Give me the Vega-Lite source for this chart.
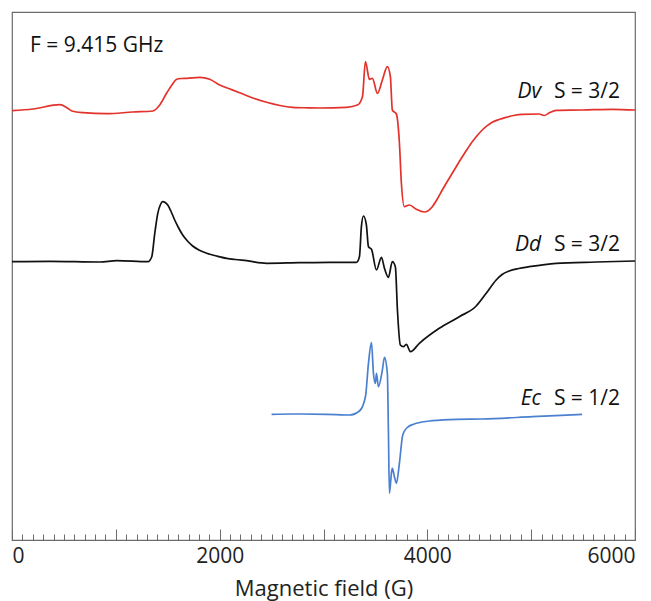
{
  "$schema": "https://vega.github.io/schema/vega-lite/v6.json",
  "width": 623,
  "height": 528,
  "autosize": "none",
  "padding": {"left": 12, "top": 12, "right": 16, "bottom": 61},
  "background": "white",
  "config": {
    "view": {"stroke": "#6b6b6b", "strokeWidth": 1.2},
    "font": "Open Sans"
  },
  "datasets": {
    "spec": [
      {"s": "Dv", "B": 0, "I": 429.3}, {"s": "Dv", "B": 202, "I": 431}, {"s": "Dv", "B": 462, "I": 435.3}, {"s": "Dv", "B": 529, "I": 432.3}, {"s": "Dv", "B": 577, "I": 429}, {"s": "Dv", "B": 683, "I": 427.3}, {"s": "Dv", "B": 913, "I": 426.3}, {"s": "Dv", "B": 1163, "I": 428}, {"s": "Dv", "B": 1356, "I": 429}, {"s": "Dv", "B": 1423, "I": 435}, {"s": "Dv", "B": 1490, "I": 447}, {"s": "Dv", "B": 1540, "I": 455}, {"s": "Dv", "B": 1587, "I": 460.7}, {"s": "Dv", "B": 1630, "I": 461.5}, {"s": "Dv", "B": 1683, "I": 461.7}, {"s": "Dv", "B": 1808, "I": 462.7}, {"s": "Dv", "B": 1904, "I": 460.7}, {"s": "Dv", "B": 2000, "I": 455}, {"s": "Dv", "B": 2100, "I": 451}, {"s": "Dv", "B": 2192, "I": 447.3}, {"s": "Dv", "B": 2320, "I": 442}, {"s": "Dv", "B": 2452, "I": 437.7}, {"s": "Dv", "B": 2580, "I": 434.5}, {"s": "Dv", "B": 2702, "I": 432.7}, {"s": "Dv", "B": 2850, "I": 432.2}, {"s": "Dv", "B": 2962, "I": 432}, {"s": "Dv", "B": 3221, "I": 432.7}, {"s": "Dv", "B": 3327, "I": 435}, {"s": "Dv", "B": 3375, "I": 443.3}, {"s": "Dv", "B": 3404, "I": 478.3}, {"s": "Dv", "B": 3442, "I": 460.7}, {"s": "Dv", "B": 3471, "I": 461.7}, {"s": "Dv", "B": 3519, "I": 446.7}, {"s": "Dv", "B": 3567, "I": 460}, {"s": "Dv", "B": 3615, "I": 473.3}, {"s": "Dv", "B": 3644, "I": 463.3}, {"s": "Dv", "B": 3663, "I": 430}, {"s": "Dv", "B": 3702, "I": 426}, {"s": "Dv", "B": 3731, "I": 397}, {"s": "Dv", "B": 3750, "I": 357}, {"s": "Dv", "B": 3779, "I": 333.3}, {"s": "Dv", "B": 3827, "I": 335}, {"s": "Dv", "B": 3894, "I": 330.7}, {"s": "Dv", "B": 3971, "I": 328}, {"s": "Dv", "B": 4048, "I": 333.3}, {"s": "Dv", "B": 4096, "I": 341}, {"s": "Dv", "B": 4144, "I": 350}, {"s": "Dv", "B": 4192, "I": 358.5}, {"s": "Dv", "B": 4240, "I": 366.7}, {"s": "Dv", "B": 4288, "I": 375}, {"s": "Dv", "B": 4337, "I": 383.3}, {"s": "Dv", "B": 4385, "I": 391}, {"s": "Dv", "B": 4433, "I": 398.3}, {"s": "Dv", "B": 4481, "I": 404.5}, {"s": "Dv", "B": 4529, "I": 410}, {"s": "Dv", "B": 4577, "I": 414.3}, {"s": "Dv", "B": 4625, "I": 417.7}, {"s": "Dv", "B": 4690, "I": 420.5}, {"s": "Dv", "B": 4760, "I": 422.7}, {"s": "Dv", "B": 4830, "I": 424.5}, {"s": "Dv", "B": 4913, "I": 425.7}, {"s": "Dv", "B": 5077, "I": 426}, {"s": "Dv", "B": 5125, "I": 424.5}, {"s": "Dv", "B": 5180, "I": 427.5}, {"s": "Dv", "B": 5240, "I": 429.7}, {"s": "Dv", "B": 5490, "I": 430}, {"s": "Dv", "B": 5779, "I": 430.7}, {"s": "Dv", "B": 6000, "I": 430},
      {"s": "Dd", "B": 0, "I": 278.3}, {"s": "Dd", "B": 365, "I": 278.7}, {"s": "Dd", "B": 846, "I": 278}, {"s": "Dd", "B": 1010, "I": 279.3}, {"s": "Dd", "B": 1308, "I": 278.3}, {"s": "Dd", "B": 1346, "I": 283.3}, {"s": "Dd", "B": 1375, "I": 306.7}, {"s": "Dd", "B": 1404, "I": 326.7}, {"s": "Dd", "B": 1430, "I": 335.5}, {"s": "Dd", "B": 1452, "I": 338.3}, {"s": "Dd", "B": 1475, "I": 337.5}, {"s": "Dd", "B": 1500, "I": 335}, {"s": "Dd", "B": 1530, "I": 329}, {"s": "Dd", "B": 1567, "I": 320}, {"s": "Dd", "B": 1600, "I": 313}, {"s": "Dd", "B": 1644, "I": 305}, {"s": "Dd", "B": 1690, "I": 299}, {"s": "Dd", "B": 1740, "I": 294}, {"s": "Dd", "B": 1800, "I": 290}, {"s": "Dd", "B": 1875, "I": 286.7}, {"s": "Dd", "B": 1970, "I": 284}, {"s": "Dd", "B": 2067, "I": 281.7}, {"s": "Dd", "B": 2150, "I": 280.5}, {"s": "Dd", "B": 2260, "I": 279.3}, {"s": "Dd", "B": 2452, "I": 276.7}, {"s": "Dd", "B": 2769, "I": 277.3}, {"s": "Dd", "B": 3058, "I": 277.7}, {"s": "Dd", "B": 3317, "I": 277.7}, {"s": "Dd", "B": 3346, "I": 283.3}, {"s": "Dd", "B": 3365, "I": 313.3}, {"s": "Dd", "B": 3385, "I": 324}, {"s": "Dd", "B": 3413, "I": 315}, {"s": "Dd", "B": 3433, "I": 293.3}, {"s": "Dd", "B": 3462, "I": 290.7}, {"s": "Dd", "B": 3510, "I": 270}, {"s": "Dd", "B": 3558, "I": 282.7}, {"s": "Dd", "B": 3587, "I": 271.7}, {"s": "Dd", "B": 3625, "I": 262.7}, {"s": "Dd", "B": 3663, "I": 278.3}, {"s": "Dd", "B": 3692, "I": 273.3}, {"s": "Dd", "B": 3712, "I": 230}, {"s": "Dd", "B": 3740, "I": 195}, {"s": "Dd", "B": 3769, "I": 193.3}, {"s": "Dd", "B": 3798, "I": 195.7}, {"s": "Dd", "B": 3837, "I": 188.3}, {"s": "Dd", "B": 3923, "I": 196.7}, {"s": "Dd", "B": 4115, "I": 211.7}, {"s": "Dd", "B": 4308, "I": 223.3}, {"s": "Dd", "B": 4471, "I": 234}, {"s": "Dd", "B": 4567, "I": 246.7}, {"s": "Dd", "B": 4663, "I": 260}, {"s": "Dd", "B": 4720, "I": 265.5}, {"s": "Dd", "B": 4788, "I": 269}, {"s": "Dd", "B": 4880, "I": 271.5}, {"s": "Dd", "B": 4981, "I": 273.3}, {"s": "Dd", "B": 5240, "I": 276.7}, {"s": "Dd", "B": 5625, "I": 278}, {"s": "Dd", "B": 6000, "I": 279},
      {"s": "Ec", "B": 2500, "I": 125.7}, {"s": "Ec", "B": 2702, "I": 126}, {"s": "Ec", "B": 3029, "I": 125.7}, {"s": "Ec", "B": 3250, "I": 125}, {"s": "Ec", "B": 3346, "I": 129}, {"s": "Ec", "B": 3404, "I": 143.3}, {"s": "Ec", "B": 3433, "I": 176.7}, {"s": "Ec", "B": 3462, "I": 197.3}, {"s": "Ec", "B": 3481, "I": 166.7}, {"s": "Ec", "B": 3500, "I": 156.7}, {"s": "Ec", "B": 3510, "I": 166.7}, {"s": "Ec", "B": 3529, "I": 153.3}, {"s": "Ec", "B": 3567, "I": 170}, {"s": "Ec", "B": 3587, "I": 182.7}, {"s": "Ec", "B": 3615, "I": 166.7}, {"s": "Ec", "B": 3625, "I": 110}, {"s": "Ec", "B": 3635, "I": 46.7}, {"s": "Ec", "B": 3654, "I": 66.7}, {"s": "Ec", "B": 3663, "I": 71.7}, {"s": "Ec", "B": 3683, "I": 63.3}, {"s": "Ec", "B": 3702, "I": 56.7}, {"s": "Ec", "B": 3731, "I": 76.7}, {"s": "Ec", "B": 3760, "I": 103.3}, {"s": "Ec", "B": 3780, "I": 109}, {"s": "Ec", "B": 3820, "I": 113.5}, {"s": "Ec", "B": 3860, "I": 115.5}, {"s": "Ec", "B": 3894, "I": 116.7}, {"s": "Ec", "B": 4048, "I": 119.3}, {"s": "Ec", "B": 4288, "I": 120.7}, {"s": "Ec", "B": 4529, "I": 121}, {"s": "Ec", "B": 5010, "I": 123.3}, {"s": "Ec", "B": 5490, "I": 125.7}
    ],
    "ann": [
      {"kind": "freq", "text": "F = 9.415 GHz", "B": 173, "I": 488},
      {"kind": "species", "text": "Dv", "B": 5096, "I": 442},
      {"kind": "spin", "text": "S = 3/2", "B": 5856, "I": 442},
      {"kind": "species", "text": "Dd", "B": 5096, "I": 289},
      {"kind": "spin", "text": "S = 3/2", "B": 5856, "I": 289},
      {"kind": "species", "text": "Ec", "B": 5096, "I": 135},
      {"kind": "spin", "text": "S = 1/2", "B": 5856, "I": 135}
    ]
  },
  "layer": [
    {
      "data": {"name": "spec"},
      "mark": {"type": "line", "strokeWidth": 1.7, "strokeJoin": "round", "interpolate": "monotone"},
      "encoding": {
        "x": {
          "field": "B", "type": "quantitative",
          "scale": {"domain": [0, 6000], "nice": false, "zero": false},
          "axis": {
            "orient": "bottom",
            "title": "Magnetic field (G)",
            "titleFont": "Open Sans", "titleFontSize": 22, "titleFontWeight": "normal", "titleColor": "#222",
            "titlePadding": 12,
            "values": [0, 2000, 4000, 6000],
            "format": "d",
            "ticks": false,
            "labelFont": "Open Sans", "labelFontSize": 21, "labelColor": "#222",
            "labelFlush": true, "labelOverlap": false,
            "labelPadding": 5,
            "domainColor": "#6b6b6b", "domainWidth": 1.2,
            "grid": false
          }
        },
        "y": {
          "field": "I", "type": "quantitative",
          "scale": {"domain": [0, 528], "nice": false, "zero": false},
          "axis": null
        },
        "color": {
          "field": "s", "type": "nominal",
          "scale": {"domain": ["Dv", "Dd", "Ec"], "range": ["#e3322b", "#111111", "#4a80cf"]},
          "legend": null
        }
      }
    },
    {
      "data": {"name": "ann"},
      "transform": [{"filter": "datum.kind === 'freq'"}],
      "mark": {"type": "text", "align": "left", "baseline": "alphabetic", "fontSize": 21, "font": "Open Sans", "color": "#111"},
      "encoding": {
        "x": {
          "field": "B", "type": "quantitative",
          "axis": {
            "orient": "top",
            "offset": -528,
            "title": null,
            "labels": false,
            "domain": false,
            "grid": false,
            "values": [0,100,200,300,400,500,600,700,800,900,1000,1100,1200,1300,1400,1500,1600,1700,1800,1900,2000,2100,2200,2300,2400,2500,2600,2700,2800,2900,3000,3100,3200,3300,3400,3500,3600,3700,3800,3900,4000,4100,4200,4300,4400,4500,4600,4700,4800,4900,5000,5100,5200,5300,5400,5500,5600,5700,5800,5900,6000],
            "tickSize": {"condition": {"test": "datum.value % 1000 === 0", "value": 11}, "value": 6},
            "tickColor": "#6b6b6b", "tickWidth": 1
          }
        },
        "y": {"field": "I", "type": "quantitative", "axis": null},
        "text": {"field": "text"}
      }
    },
    {
      "data": {"name": "ann"},
      "transform": [{"filter": "datum.kind === 'species'"}],
      "mark": {"type": "text", "align": "right", "baseline": "alphabetic", "fontSize": 21, "fontStyle": "italic", "font": "Open Sans", "color": "#111"},
      "encoding": {
        "x": {"field": "B", "type": "quantitative", "axis": null},
        "y": {"field": "I", "type": "quantitative", "axis": null},
        "text": {"field": "text"}
      }
    },
    {
      "data": {"name": "ann"},
      "transform": [{"filter": "datum.kind === 'spin'"}],
      "mark": {"type": "text", "align": "right", "baseline": "alphabetic", "fontSize": 21, "font": "Open Sans", "color": "#111"},
      "encoding": {
        "x": {"field": "B", "type": "quantitative", "axis": null},
        "y": {"field": "I", "type": "quantitative", "axis": null},
        "text": {"field": "text"}
      }
    }
  ]
}
